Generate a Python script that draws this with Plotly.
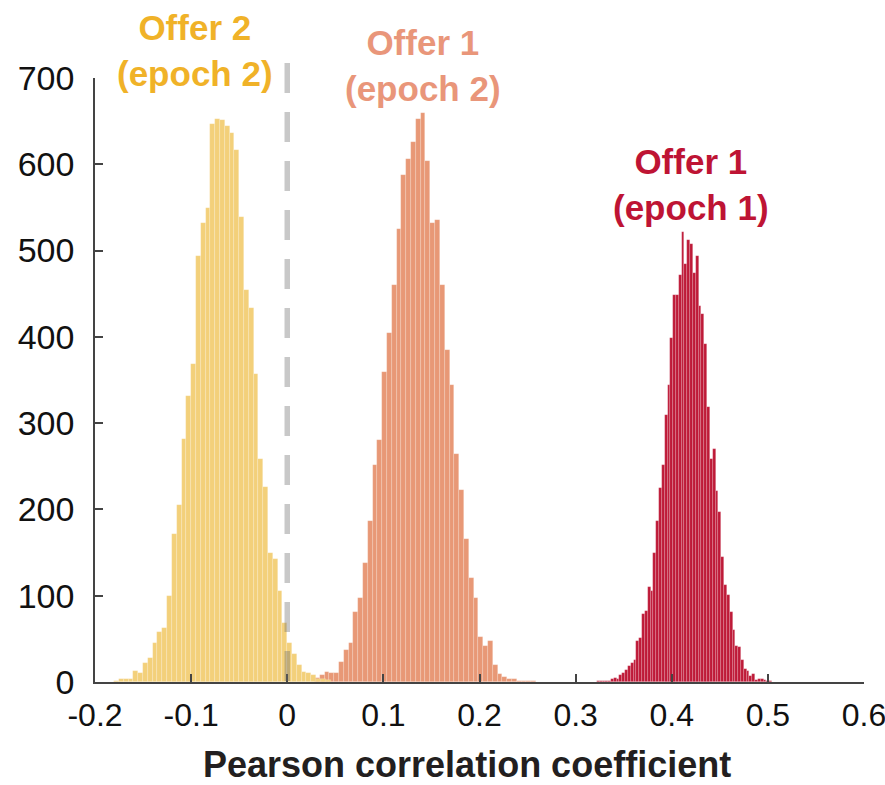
import plotly.graph_objects as go

# ---- data (histogram counts) ----
# Offer 2 (epoch 2)
O2E2_START = -0.18
O2E2_WIDTH = 0.005
o2e2_counts = [1, 4, 3, 3, 13, 10, 22, 28, 45, 58, 63, 100, 171, 205, 282, 331, 368,
               494, 532, 549, 647, 653, 651, 644, 636, 617, 539, 454, 433, 357, 258,
               226, 149, 142, 105, 68, 45, 33, 20, 12, 11, 8, 4, 3, 2]

# Offer 1 (epoch 2)
O1E2_START = 0.0288
O1E2_WIDTH = 0.005
o1e2_counts = [5, 8, 12, 11, 11, 23, 37, 45, 81, 97, 138, 187, 251, 280, 359, 404, 460,
               525, 588, 606, 626, 652, 660, 604, 532, 535, 460, 385, 344, 264, 222,
               166, 120, 97, 52, 42, 47, 20, 9, 6, 4, 3, 1, 1, 1, 1]

# Offer 1 (epoch 1)
O1E1_START = 0.3221
O1E1_WIDTH = 0.00294
o1e1_counts = [1, 1, 1, 1, 1,
               3, 5, 3, 8, 11, 14, 19, 22, 26, 47, 51, 79, 82, 110, 105, 150, 187, 225,
               252, 309, 344, 399, 449, 449, 472,
               522, 485, 512, 508, 474, 494, 436, 426, 392, 319, 259, 270, 221, 197,
               145, 112, 101, 81, 60, 42, 40, 25, 15, 13, 7, 9, 2, 3, 4, 2, 1, 1]

x_tickvals = [-0.2, -0.1, 0, 0.1, 0.2, 0.3, 0.4, 0.5, 0.6]
x_ticktext = ["-0.2", "-0.1", "0", "0.1", "0.2", "0.3", "0.4", "0.5", "0.6"]
y_tickvals = [0, 100, 200, 300, 400, 500, 600, 700]
y_ticktext = ["0", "100", "200", "300", "400", "500", "600", "700"]

labels = ["Offer 2<br>(epoch 2)", "Offer 1<br>(epoch 2)", "Offer 1<br>(epoch 1)"]
# label centres in paper coordinates
label_px = [0.130, 0.427, 0.775]
label_py = [1.046, 1.020, 0.8245]

# ---- styles ----
C_YEL_BAR = "#F3D07A"
C_ORA_BAR = "#E89876"
C_RED_BAR = "#BE1A38"
C_YEL_TXT = "#F0B228"
C_ORA_TXT = "#E9967A"
C_RED_TXT = "#BE1434"
AX = "#444444"


def centers(start, width, counts):
    return [start + width * (i + 0.5) for i in range(len(counts))]


fig = go.Figure()
edge = dict(color="rgba(255,255,255,0.28)", width=0.6)
fig.add_trace(go.Bar(x=centers(O1E2_START, O1E2_WIDTH, o1e2_counts), y=o1e2_counts,
                     width=O1E2_WIDTH, marker=dict(color=C_ORA_BAR, line=edge),
                     showlegend=False, hoverinfo="skip"))
fig.add_trace(go.Bar(x=centers(O2E2_START, O2E2_WIDTH, o2e2_counts), y=o2e2_counts,
                     width=O2E2_WIDTH, marker=dict(color=C_YEL_BAR, line=edge),
                     showlegend=False, hoverinfo="skip"))
fig.add_trace(go.Bar(x=centers(O1E1_START, O1E1_WIDTH, o1e1_counts), y=o1e1_counts,
                     width=O1E1_WIDTH, marker=dict(color=C_RED_BAR, line=edge),
                     showlegend=False, hoverinfo="skip"))

# dashed line at r = 0
fig.add_shape(type="line", xref="x", yref="paper", x0=0, x1=0, y0=1.025, y1=0,
              line=dict(color="rgba(110,110,110,0.38)", width=5.5, dash="30px,19px"),
              layer="above")

for txt, lx, ly, col in zip(labels, label_px, label_py, [C_YEL_TXT, C_ORA_TXT, C_RED_TXT]):
    fig.add_annotation(x=lx, y=ly, xref="paper", yref="paper", text="<b>" + txt + "</b>",
                       showarrow=False, xanchor="center", yanchor="middle",
                       font=dict(family="Liberation Sans, Arial, sans-serif", size=35, color=col))

fig.add_annotation(x=0.484, y=-0.136, xref="paper", yref="paper",
                   text="<b>Pearson correlation coefficient</b>", showarrow=False,
                   xanchor="center", yanchor="middle",
                   font=dict(family="Liberation Sans, Arial, sans-serif", size=36, color="#231F20"))

fig.update_layout(
    width=885, height=785,
    margin=dict(l=95, r=21, t=78, b=103, autoexpand=False),
    paper_bgcolor="white", plot_bgcolor="white",
    barmode="overlay", bargap=0,
    xaxis=dict(range=[-0.2, 0.6], tickmode="array", tickvals=x_tickvals, ticktext=x_ticktext,
               showline=True, linecolor=AX, linewidth=1.5, ticks="inside", ticklen=8,
               tickwidth=1.5, tickcolor=AX, showgrid=False, zeroline=False,
               automargin=False,
               ticklabelstandoff=4, ticklabeloverflow="allow",
               tickfont=dict(family="Liberation Sans Narrow, Arial Narrow, Liberation Sans, Arial",
                             size=32, color="#111111")),
    yaxis=dict(range=[0, 700], tickmode="array", tickvals=y_tickvals, ticktext=y_ticktext,
               showline=True, linecolor=AX, linewidth=1.5, ticks="inside", ticklen=8,
               tickwidth=1.5, tickcolor=AX, showgrid=False, zeroline=False,
               automargin=False,
               ticklabelstandoff=12,
               tickfont=dict(family="Liberation Sans, Arial, sans-serif", size=34, color="#111111")),
)

fig.write_html("out.html")
